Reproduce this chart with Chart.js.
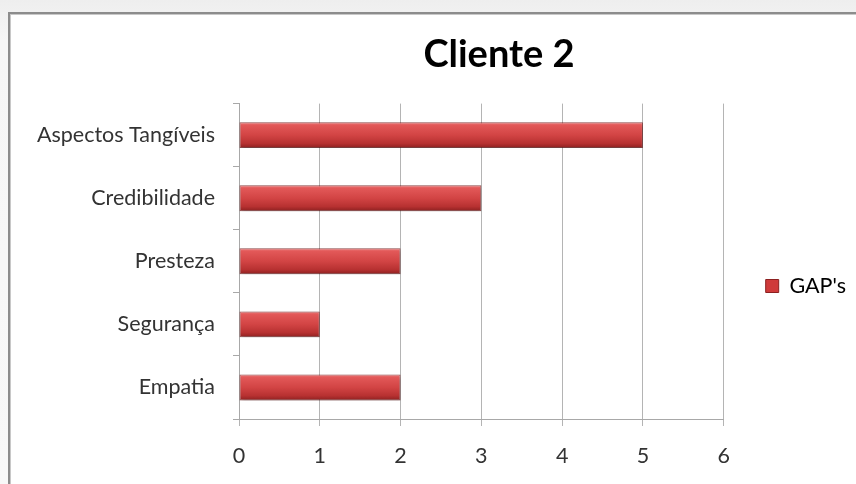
<!DOCTYPE html>
<html>
<head>
<meta charset="utf-8">
<script src="https://cdn.jsdelivr.net/npm/chart.js@4.4.1/dist/chart.umd.min.js"></script>
<style>
  html, body { margin: 0; padding: 0; width: 856px; height: 484px; overflow: hidden;
    background: linear-gradient(#eeeeee, #f6f6f6 40px, #f8f8f8); }
  #frame { position: absolute; left: 8px; top: 12px; width: 900px; height: 520px;
    background: #ffffff; border: 2px solid #8c8c8c; box-shadow: inset 1px 1px 0 #c8c8c8; }
  #chart { position: absolute; left: 0; top: 0; }
</style>
</head>
<body>
<div id="frame"></div>
<canvas id="chart" width="856" height="572"></canvas>
<script>
// Service gaps per dimension
const categories = ['Aspectos Tangíveis', 'Credibilidade', 'Presteza', 'Segurança', 'Empatia'];
const gapValues = [5, 3, 2, 1, 2];
const seriesLabel = "GAP's";
const xTicks = [0, 1, 2, 3, 4, 5, 6];

const BAR_PCT = 0.41;
const labelFont = { family: 'Lato, "Open Sans", sans-serif', size: 21.5 };

// vertical cylinder-like shading for each bar
function barGradient(ctx) {
  const chart = ctx.chart;
  const ys = chart.scales.y;
  if (!chart.chartArea || !ys || ctx.dataIndex === undefined) return '#cc3b3b';
  const yc = ys.getPixelForValue(ctx.dataIndex);
  const step = Math.abs(ys.getPixelForValue(1) - ys.getPixelForValue(0));
  const half = step * BAR_PCT / 2;
  if (!isFinite(yc) || !isFinite(half) || half <= 0) return '#cc3b3b';
  const g = chart.ctx.createLinearGradient(0, yc - half, 0, yc + half);
  g.addColorStop(0, '#ec7a7a');
  g.addColorStop(0.12, '#e25858');
  g.addColorStop(0.5, '#d24444');
  g.addColorStop(0.82, '#b73131');
  g.addColorStop(1, '#8c2020');
  return g;
}

// soft drop shadow under the bars
const barShadow = {
  id: 'barShadow',
  beforeDatasetsDraw(chart) {
    const c = chart.ctx;
    c.save();
    c.shadowColor = 'rgba(0,0,0,0.30)';
    c.shadowBlur = 4;
    c.shadowOffsetX = 1;
    c.shadowOffsetY = 2;
  },
  afterDatasetsDraw(chart) {
    chart.ctx.restore();
  }
};

// the heading sits a little right of the canvas centre
const TITLE_SHIFT = 61;
const titleOffset = {
  id: 'titleOffset',
  afterLayout(chart) {
    const t = chart.titleBlock;
    if (t) { t.left += TITLE_SHIFT; t.right += TITLE_SHIFT; }
  }
};

new Chart(document.getElementById('chart'), {
  type: 'bar',
  data: {
    labels: categories,
    datasets: [{
      label: seriesLabel,
      data: gapValues,
      backgroundColor: barGradient,
      borderColor: 'rgba(120,25,25,0.75)',
      borderWidth: 1,
      borderSkipped: false,
      categoryPercentage: 1,
      barPercentage: BAR_PCT
    }]
  },
  options: {
    indexAxis: 'y',
    responsive: false,
    animation: false,
    devicePixelRatio: 1,
    layout: { padding: { left: 20, right: 0, top: 0, bottom: 0 } },
    plugins: {
      title: {
        display: true,
        text: 'Cliente 2',
        color: '#000000',
        font: { family: 'Lato, "Open Sans", sans-serif', size: 38, weight: 'bold', lineHeight: 1.2 },
        padding: { top: 32, bottom: 26 }
      },
      legend: {
        position: 'right',
        align: 'center',
        labels: {
          color: '#333333',
          font: labelFont,
          boxWidth: 13,
          boxHeight: 13,
          padding: 42,
          generateLabels(chart) {
            return chart.data.datasets.map((ds, i) => ({
              text: ds.label,
              fillStyle: '#cf3a3a',
              strokeStyle: '#8c2020',
              lineWidth: 1,
              datasetIndex: i
            }));
          }
        }
      },
      tooltip: { enabled: false }
    },
    scales: {
      x: {
        type: 'linear',
        min: 0,
        max: 6,
        afterBuildTicks(scale) { scale.ticks = xTicks.map(v => ({ value: v })); },
        afterFit(scale) { scale.height = 153; },
        grid: { color: '#b4b4b4', lineWidth: 1, tickLength: 7, drawTicks: true },
        border: { color: '#a8a8a8', width: 1 },
        ticks: { color: '#333333', font: labelFont, padding: 17 }
      },
      y: {
        afterFit(scale) { scale.width = 219; },
        grid: { display: true, drawOnChartArea: false, offset: true, tickLength: 6, color: '#a8a8a8' },
        border: { color: '#a8a8a8', width: 1 },
        ticks: { color: '#333333', font: labelFont, padding: 18 }
      }
    }
  },
  plugins: [barShadow, titleOffset]
});
</script>
</body>
</html>
